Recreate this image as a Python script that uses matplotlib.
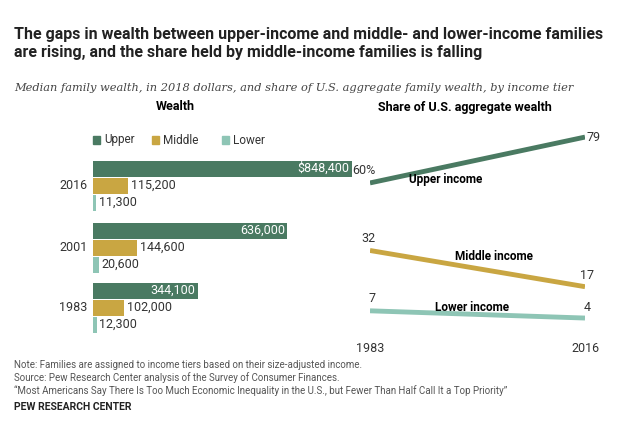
import matplotlib
matplotlib.use("Agg")
import matplotlib.pyplot as plt

years = ["2016", "2001", "1983"]
tiers = ["Upper", "Middle", "Lower"]
upper = [848400, 636000, 344100]
middle = [115200, 144600, 102000]
lower = [11300, 20600, 12300]
upper_lbl = ["$848,400", "636,000", "344,100"]

share_years = [1983, 2016]
share_upper = [60, 79]
share_middle = [32, 17]
share_lower = [7, 4]

cols = {"Upper": "#4a7a62", "Middle": "#c9a642", "Lower": "#8ec5b5"}
W, H = 639, 422
fig = plt.figure(figsize=(W/100, H/100), dpi=100)
fig.patch.set_facecolor("white")
plt.rcParams["font.family"] = ["Roboto", "DejaVu Sans"]

def ax_px(x0, y0, x1, y1):
    return fig.add_axes([x0/W, 1-y1/H, (x1-x0)/W, (y1-y0)/H])

fig.text(14/W, 1-44/H, "The gaps in wealth between upper-income and middle- and lower-income families\nare rising, and the share held by middle-income families is falling",
         fontsize=11.5, fontweight="bold", va="center", ha="left", linespacing=1.25, color="#222")
fig.text(14/W, 1-88/H, "Median family wealth, in 2018 dollars, and share of U.S. aggregate family wealth, by income tier",
         fontsize=8.2, style="italic", family="DejaVu Serif", va="center", color="#444")

# Left bars
ax = ax_px(93, 155, 368, 335)
ax.set_xlim(0, 900000)
ax.set_ylim(180, 0)
ax.axis("off")
h = 17
tops = [5, 67, 127]
for i, y in enumerate(tops):
    vals = [upper[i], middle[i], lower[i]]
    for j, t in enumerate(tiers):
        yc = y + j*h + h/2
        ax.barh(yc, vals[j], height=h-1, color=cols[t], left=0)
        if j == 0:
            ax.text(vals[j]-8000, yc, upper_lbl[i], color="white", ha="right", va="center", fontsize=9)
        else:
            ax.text(vals[j]+8000, yc, f"{vals[j]:,}", color="#333", ha="left", va="center", fontsize=9)
    ax.text(-18000, y + 1.5*h, years[i], ha="right", va="center", fontsize=9, color="#333")

fig.text(175/W, 1-107/H, "Wealth", fontsize=9, fontweight="bold", ha="center", va="center")
lx = [93, 152, 222]
for x, t in zip(lx, tiers):
    fig.patches.append(plt.Rectangle((x/W, 1-144/H), 7/W, 8/H, color=cols[t], transform=fig.transFigure))
    fig.text((x+11)/W, 1-140/H, t, fontsize=8.5, color="#333", va="center")

# Right lines
ax2 = ax_px(370, 122.6, 585, 327.7)
ax2.set_xlim(1983, 2016)
ax2.set_ylim(0, 85)
for s, k in [(share_upper, "Upper"), (share_middle, "Middle"), (share_lower, "Lower")]:
    ax2.plot(share_years, s, color=cols[k], lw=3.5, solid_capstyle="butt")
    ax2.text(1983+0.9, s[0]+5, f"{s[0]}%" if k == "Upper" else str(s[0]), ha="right", va="center", fontsize=9, color="#333")
    ax2.text(2016+0.3, s[1] + (0 if k == "Upper" else 4.5), str(s[1]), ha="left" if k == "Upper" else "center", va="center", fontsize=9, color="#333")
ax2.text(1989, 61.5, "Upper income", fontweight="bold", fontsize=8.5, va="center")
ax2.text(1996, 29.5, "Middle income", fontweight="bold", fontsize=8.5, va="center")
ax2.text(1993, 8.5, "Lower income", fontweight="bold", fontsize=8.5, va="center")
for sp in ["top", "right", "left", "bottom"]:
    ax2.spines[sp].set_visible(False)
ax2.set_yticks([])
ax2.set_xticks(share_years)
ax2.set_xticklabels(["1983", "2016"], fontsize=9, color="#333")
ax2.tick_params(length=0, pad=10)
fig.text(465/W, 1-107/H, "Share of U.S. aggregate wealth", fontsize=9, fontweight="bold", ha="center", va="center")

notes = ["Note: Families are assigned to income tiers based on their size-adjusted income.",
         "Source: Pew Research Center analysis of the Survey of Consumer Finances.",
         "\u201cMost Americans Say There Is Too Much Economic Inequality in the U.S., but Fewer Than Half Call It a Top Priority\u201d"]
for i, n in enumerate(notes):
    fig.text(14/W, 1-(365+13*i)/H, n, fontsize=7, color="#555", va="center")
fig.text(14/W, 1-407/H, "PEW RESEARCH CENTER", fontsize=7.5, fontweight="bold", color="#222", va="center")

fig.savefig("out.png", dpi=100)
